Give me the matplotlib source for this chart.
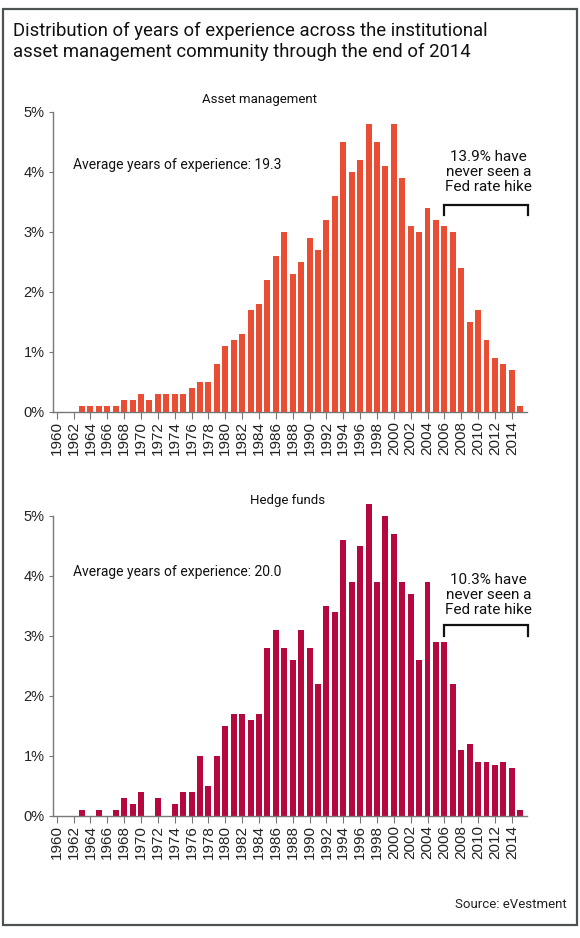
import matplotlib
matplotlib.use('Agg')
import matplotlib.pyplot as plt
from matplotlib.patches import Rectangle

# data (percent of people by start year)
years = list(range(1960, 2016))
asset_mgmt = [0, 0, 0, 0.1, 0.1, 0.1, 0.1, 0.1, 0.2, 0.2,
              0.3, 0.2, 0.3, 0.3, 0.3, 0.3, 0.4, 0.5, 0.5, 0.8,
              1.1, 1.2, 1.3, 1.7, 1.8, 2.2, 2.6, 3.0, 2.3, 2.5,
              2.9, 2.7, 3.2, 3.6, 4.5, 4.0, 4.2, 4.8, 4.5, 4.1,
              4.8, 3.9, 3.1, 3.0, 3.4, 3.2, 3.1, 3.0, 2.4, 1.5,
              1.7, 1.2, 0.9, 0.8, 0.7, 0.1]
hedge_funds = [0, 0, 0, 0.1, 0, 0.1, 0, 0.1, 0.3, 0.2,
               0.4, 0, 0.3, 0, 0.2, 0.4, 0.4, 1.0, 0.5, 1.0,
               1.5, 1.7, 1.7, 1.6, 1.7, 2.8, 3.1, 2.8, 2.6, 3.1,
               2.8, 2.2, 3.5, 3.4, 4.6, 3.9, 4.5, 5.2, 3.9, 5.0,
               4.7, 3.9, 3.7, 2.6, 3.9, 2.9, 2.9, 2.2, 1.1, 1.2,
               0.9, 0.9, 0.85, 0.9, 0.8, 0.1]
tick_years = list(range(1960, 2015, 2))
yticks = [0, 1, 2, 3, 4, 5]

panels = [
    ('Asset management', asset_mgmt, '#e94e34', '19.3', '13.9%'),
    ('Hedge funds', hedge_funds, '#b5083f', '20.0', '10.3%'),
]

W, H = 580, 938
fig = plt.figure(figsize=(W / 100, H / 100), dpi=100)
narrow = ['Roboto', 'DejaVu Sans']
plain = ['Liberation Sans', 'DejaVu Sans']

# outer frame
fig.patches.append(Rectangle((3 / W, 1 - 925 / H), 574 / W, 916 / H,
                             transform=fig.transFigure, fill=False,
                             edgecolor='#4d5252', lw=1.6))

fig.text(13 / W, 1 - 41 / H,
         'Distribution of years of experience across the institutional\n'
         'asset management community through the end of 2014',
         fontsize=13.3, family=narrow, va='center', ha='left', linespacing=1.2,
         color='#111111')

# pixel layout of each panel: zero line y, subtitle pos, avg text y, bracket
layout = [
    dict(zero=411.7, sub=(259, 100), avg=165, brk=(3.45, 3.28), note=4.0),
    dict(zero=815.7, sub=(288, 500), avg=572, brk=(3.18, 3.0), note=3.68),
]

for (name, vals, col, avg, pct), lay in zip(panels, layout):
    top = lay['zero'] - 5.3 * 60
    ax = fig.add_axes([53 / W, 1 - lay['zero'] / H, 474 / W, (lay['zero'] - top) / H])
    ax.bar(years, vals, width=0.7, color=col, zorder=2)
    ax.set_xlim(1959.56, 2015.8)
    ax.set_ylim(0, 5.3)
    ax.set_xticks(tick_years)
    ax.set_xticklabels([str(y) for y in tick_years], rotation=90,
                       family=plain, fontsize=11, color='#222222')
    ax.set_yticks(yticks)
    ax.set_yticklabels(['%d%%' % v for v in yticks], family=plain,
                       fontsize=10.5, color='#222222')
    for s in ['top', 'right']:
        ax.spines[s].set_visible(False)
    ax.spines['left'].set_bounds(0, 5)
    for s in ['left', 'bottom']:
        ax.spines[s].set_color('#777777')
        ax.spines[s].set_linewidth(1.0)
    ax.tick_params(axis='x', length=5, color='#777777', pad=2)
    ax.tick_params(axis='y', length=3, color='#777777', pad=3)

    fig.text(lay['sub'][0] / W, 1 - lay['sub'][1] / H, name, family=narrow,
             fontsize=9.5, ha='center', va='center', color='#111111')
    fig.text(73 / W, 1 - lay['avg'] / H,
             'Average years of experience: ' + avg, family=narrow,
             fontsize=10, ha='left', va='center', color='#111111')

    # bracket for those who never saw a Fed rate hike
    hy, ly = lay['brk']
    ax.plot([2006, 2006, 2015.95, 2015.95], [ly, hy, hy, ly], color='#111111',
            lw=1.6, clip_on=False, solid_joinstyle='miter', zorder=3)
    ax.text(2011.25, lay['note'], pct + ' have\nnever seen a\nFed rate hike',
            family=narrow, fontsize=11, ha='center', va='center',
            linespacing=1.1, color='#111111')

fig.text(567 / W, 1 - 905 / H, 'Source: eVestment', family=narrow,
         fontsize=9.5, ha='right', va='center', color='#222222')

fig.savefig('out.png', dpi=100)
